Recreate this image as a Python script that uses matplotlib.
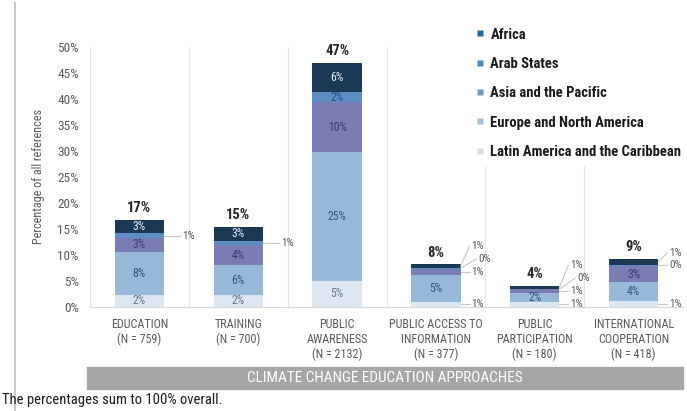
import numpy as np
import matplotlib
matplotlib.use("Agg")
import matplotlib.pyplot as plt
from matplotlib import font_manager
from matplotlib.lines import Line2D
from matplotlib.patches import Rectangle

# ---------------- data ----------------
categories = ["EDUCATION\n(N = 759)", "TRAINING\n(N = 700)",
              "PUBLIC\nAWARENESS\n(N = 2132)", "PUBLIC ACCESS TO\nINFORMATION\n(N = 377)",
              "PUBLIC\nPARTICIPATION\n(N = 180)", "INTERNATIONAL\nCOOPERATION\n(N = 418)"]
region_names = ["Latin America and the Caribbean", "Europe and North America",
                "Asia and the Pacific", "Arab States", "Africa"]
latin = [2.3, 2.3, 4.9, 0.8, 0.8, 1.1]
europe = [8.2, 5.6, 24.8, 5.2, 1.8, 3.6]
asia = [2.7, 4.0, 9.7, 1.3, 0.7, 3.1]
arab = [0.9, 0.8, 1.9, 0.2, 0.1, 0.2]
africa = [2.6, 2.6, 5.6, 0.6, 0.6, 1.1]
yticks = [0, 5, 10, 15, 20, 25, 30, 35, 40, 45, 50]
series = [latin, europe, asia, arab, africa]

# ---------------- style ----------------
names = {f.name for f in font_manager.fontManager.ttflist}
pref = ["Liberation Sans Narrow", "DejaVu Sans Condensed", "Roboto Condensed", "Lato"]
FONT = next((n for n in pref if n in names), "DejaVu Sans")
plt.rcParams["font.family"] = [FONT, "DejaVu Sans"]

bar_colors = ["#dce7f2", "#98b8d9", "#7a7cb4", "#5d8fc6", "#1b3955"]
text_colors = ["#66788a", "#33587c", "#3b3a78", "#24507e", "#e6edf3"]
legend_colors = ["#d6dde6", "#a3bcd6", "#6f99c3", "#4f8ab8", "#1f6d9c"]
GRAY = "#595959"

fig = plt.figure(figsize=(6.87, 4.11), dpi=100)
ax = fig.add_axes([90 / 687, 1 - 306.5 / 411, 593 / 687, 259.5 / 411])

x = np.arange(len(categories))
width = 0.5
bottom = np.zeros(len(categories))
tops = []
for vals, col in zip(series, bar_colors):
    vals = np.array(vals)
    ax.bar(x, vals, width=width, bottom=bottom, color=col, edgecolor="none", zorder=2)
    tops.append(bottom + vals)
    bottom = bottom + vals
totals = bottom

ax.set_xlim(-0.5, len(categories) - 0.5)
ax.set_ylim(0, 50)
ax.set_yticks(yticks)
ax.set_yticklabels([f"{t}%" for t in yticks], color=GRAY, fontsize=9.5)
ax.set_xticks(x)
ax.set_xticklabels(categories, color=GRAY, fontsize=8.7, linespacing=1.2)
ax.set_xticks(np.arange(-0.5, len(categories)), minor=True)
ax.tick_params(axis="both", which="both", length=0)
ax.tick_params(axis="x", pad=8)
ax.tick_params(axis="y", pad=8)
ax.grid(True, axis="x", which="minor", color="#e6e6e6", lw=0.8, zorder=0)
for s in ["top", "right", "left"]:
    ax.spines[s].set_visible(False)
ax.spines["bottom"].set_color("#d9d9d9")
ax.set_ylabel("Percentage of all references", color=GRAY, fontsize=8.7, labelpad=9)

# segment labels
MIN_SEP = 2.5
x_max_label = len(categories) - 1 + width / 2 + 0.11
for j in range(len(categories)):
    last_y = -10
    for i, vals in enumerate(series):
        v = vals[j]
        lo = tops[i][j] - v
        mid = lo + v / 2
        lab = f"{v:.0f}%"
        if v >= 1.5:
            ax.text(x[j], mid, lab, ha="center", va="center", fontsize=8.5,
                    color=text_colors[i], zorder=3)
        else:
            ly = max(mid, last_y + MIN_SEP)
            last_y = ly
            tx = x[j] + width / 2 + 0.11 + (0.07 if i == 3 else 0)
            tx = min(tx, x_max_label)
            ax.plot([x[j] + width / 2, tx - 0.02], [mid, ly], color="#cfc6c0",
                    lw=0.8, zorder=3, clip_on=False)
            ax.text(tx, ly, lab, ha="left", va="center", fontsize=8, color=GRAY,
                    zorder=3, clip_on=False)
    ax.annotate(f"{totals[j]:.0f}%", (x[j], totals[j]), xytext=(0, 8.5),
                textcoords="offset points", ha="center", va="center",
                fontsize=10.5, fontweight="bold", color="#262626")

# legend
handles = [Line2D([], [], marker="s", linestyle="none", markersize=4.5,
                  markerfacecolor=c, markeredgecolor="none")
           for c in legend_colors[::-1]]
leg = fig.legend(handles, region_names[::-1], loc="upper left",
                 bbox_to_anchor=(462 / 687, 1 - 13 / 411), frameon=True,
                 framealpha=1, edgecolor="none", facecolor="white",
                 prop={"family": [FONT, "DejaVu Sans"], "weight": "bold", "size": 10.5},
                 labelspacing=1.05, handlelength=0.5, handletextpad=0.45,
                 borderpad=0.5)
for t in leg.get_texts():
    t.set_color("#1a1a1a")

# banner
fig.patches.append(Rectangle((87 / 687, 1 - 389 / 411), 596 / 687, 22 / 411,
                             transform=fig.transFigure, color="#a6a6a6", zorder=0))
fig.text(385 / 687, 1 - 378 / 411, "CLIMATE CHANGE EDUCATION APPROACHES",
         ha="center", va="center", color="white", fontsize=11)

# left border and caption
fig.add_artist(Line2D([15 / 687, 15 / 687], [0, 1 - 3 / 411], transform=fig.transFigure,
                      color="#bdbdbd", lw=1.2))
fig.text(2 / 687, 1 - 400 / 411, "The percentages sum to 100% overall.",
         ha="left", va="center", color="#1a1a1a", fontsize=10.5)

fig.savefig("out.png", dpi=100)
